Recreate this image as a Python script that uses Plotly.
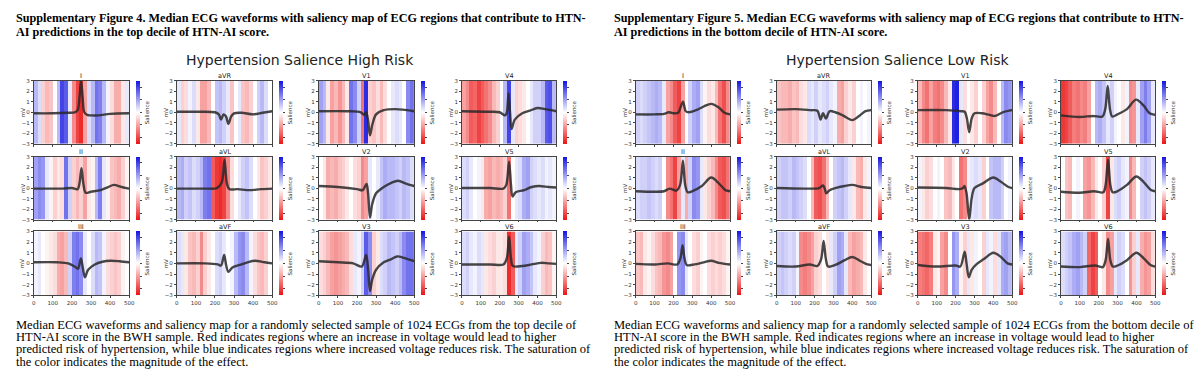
import plotly.graph_objects as go

W, H = 1200, 384

LEADS = ["I", "aVR", "V1", "V4", "II", "aVL", "V2", "V5", "III", "aVF", "V3", "V6"]
SAL_EDGES = [0, 20, 40, 60, 80, 100, 120, 140, 160, 180, 200, 220, 240, 260,
             280, 300, 320, 340, 360, 380, 400, 420, 440, 460, 480, 500]
X_TICKS = [0, 100, 200, 300, 400, 500]
Y_TICKS = [-3, -2, -1, 0, 1, 2, 3]
CB_TICKS = [-0.8, -0.4, 0, 0.4, 0.8]

# ---------------- High risk (Supplementary Figure 4) ----------------
HI_I_SAL = [0.3, 0.15, -0.2, -0.3, -0.25, 0.0, 0.3, 0.8, 0.7, 0.1, -0.5, -0.8, -0.9,
            -0.4, 0.15, 0.3, 0.6, 0.55, 0.3, 0.05, -0.15, -0.35, -0.35, -0.1, 0.1]
HI_I_T = [0, 100, 180, 215, 230, 240, 248, 256, 265, 280, 300, 340, 400, 500]
HI_I_MV = [-0.1, -0.1, -0.05, 0.0, 0.2, 1.5, 3.0, 1.5, 0.0, -0.25, -0.3, -0.3, -0.15, -0.1]

HI_AVR_SAL = [0.1, -0.2, -0.15, 0.05, 0.15, -0.1, -0.4, -0.4, -0.3, 0.0, 0.25, 0.3, 0.2,
              0.1, -0.25, 0.0, 0.1, -0.25, -0.3, -0.2, 0.0, 0.2, 0.3, 0.15, 0.0]
HI_AVR_T = [0, 100, 200, 220, 232, 245, 258, 270, 285, 300, 340, 400, 450, 500]
HI_AVR_MV = [0.05, 0.05, 0.0, -0.2, -0.7, -0.2, -0.4, -1.1, -0.4, -0.1, -0.05, -0.2, -0.05, 0.1]

HI_V1_SAL = [0.4, 0.3, -0.1, -0.4, -0.3, -0.45, -0.3, -0.1, 0.6, 0.5, 0.2, -0.6, 0.9,
             -0.2, -0.25, -0.15, -0.3, -0.15, 0.0, 0.1, 0.15, 0.1, 0.0, 0.5, 0.6]
HI_V1_T = [0, 150, 220, 238, 248, 258, 268, 280, 300, 340, 400, 440, 500]
HI_V1_MV = [0.1, 0.1, 0.0, -0.25, 0.0, -0.8, -2.2, -1.2, -0.2, 0.2, 0.3, 0.25, 0.1]

HI_V4_SAL = [-0.4, -0.5, -0.7, -0.65, -0.8, -0.7, -0.6, -0.5, -0.3, -0.2, 0.0, 0.3, 0.8,
             0.1, -0.2, -0.15, -0.1, 0.0, 0.1, 0.2, 0.2, 0.3, 0.7, 0.75, 0.3]
HI_V4_T = [0, 150, 200, 228, 238, 247, 255, 263, 280, 320, 360, 400, 440, 500]
HI_V4_MV = [0.1, 0.05, 0.0, -0.3, 0.0, 1.8, 0.0, -1.6, -0.7, -0.1, 0.15, 0.4, 0.3, 0.1]

HI_II_SAL = [0.4, 0.5, 0.45, 0.1, -0.05, -0.2, -0.1, -0.15, 0.6, 0.2, -0.2, -0.3, -0.2,
             -0.4, -0.1, -0.05, 0.3, 0.55, 0.1, -0.05, -0.25, -0.3, -0.35, -0.2, -0.05]
HI_II_T = [0, 150, 200, 230, 240, 250, 260, 272, 300, 350, 390, 420, 460, 500]
HI_II_MV = [-0.05, -0.05, 0.0, -0.1, 0.5, 1.9, 0.4, -0.45, -0.35, -0.2, 0.1, 0.3, 0.1, -0.05]

HI_AVL_SAL = [0.3, 0.35, 0.2, 0.25, 0.15, 0.2, 0.3, 0.55, 0.6, -0.7, -0.85, -0.9, -0.8,
              -0.5, -0.15, 0.0, 0.1, 0.2, 0.25, 0.15, 0.0, -0.1, -0.25, -0.2, -0.1]
HI_AVL_T = [0, 150, 210, 235, 250, 262, 275, 320, 380, 440, 500]
HI_AVL_MV = [-0.05, -0.05, 0.0, 0.5, 2.7, 0.5, -0.1, -0.1, -0.2, -0.1, -0.05]

HI_V2_SAL = [0.0, -0.1, -0.35, -0.3, -0.35, -0.25, -0.2, -0.1, 0.0, -0.15, -0.2, -0.5, -0.4,
             0.1, 0.0, 0.1, 0.25, 0.35, 0.3, 0.3, 0.25, 0.2, 0.3, 0.25, 0.15]
HI_V2_T = [0, 100, 200, 230, 250, 258, 268, 280, 300, 340, 380, 415, 460, 500]
HI_V2_MV = [0.2, 0.1, -0.1, -0.2, 0.4, -0.5, -2.8, -1.5, -0.5, 0.1, 0.5, 0.7, 0.4, 0.2]

HI_V5_SAL = [0.15, 0.2, 0.1, 0.0, 0.05, -0.1, -0.35, -0.4, -0.3, -0.35, -0.3, -0.2, -0.6,
             0.0, 0.1, 0.15, 0.35, 0.4, 0.2, 0.15, 0.1, 0.15, 0.05, 0.1, 0.05]
HI_V5_T = [0, 150, 220, 235, 250, 260, 268, 285, 330, 370, 410, 460, 500]
HI_V5_MV = [0.0, 0.0, -0.05, 0.3, 2.5, 0.3, -0.8, -0.4, -0.2, 0.1, 0.2, 0.1, 0.05]

HI_III_SAL = [0.05, 0.1, 0.0, -0.05, -0.1, -0.15, -0.35, -0.4, -0.3, 0.2, 0.55, 0.6, 0.5,
              0.1, 0.0, 0.15, 0.3, 0.25, 0.05, -0.15, -0.2, -0.25, -0.2, -0.05, 0.0]
HI_III_T = [0, 120, 180, 215, 232, 247, 258, 268, 285, 320, 360, 400, 450, 500]
HI_III_MV = [0.1, 0.1, 0.0, -0.3, -0.5, 0.45, -0.5, -1.3, -0.6, -0.1, 0.15, 0.25, 0.2, 0.1]

HI_AVF_SAL = [0.15, 0.1, -0.1, -0.25, -0.3, -0.2, -0.5, -0.2, -0.1, 0.0, 0.15, 0.2, 0.1,
              0.0, 0.05, 0.3, 0.45, 0.5, 0.3, 0.05, -0.15, -0.25, -0.3, -0.2, 0.0]
HI_AVF_T = [0, 150, 215, 232, 248, 258, 270, 290, 330, 370, 410, 460, 500]
HI_AVF_MV = [0.0, 0.0, -0.1, -0.2, 0.8, -0.1, -0.8, -0.4, -0.15, 0.1, 0.25, 0.1, 0.0]

HI_V3_SAL = [-0.15, -0.2, -0.3, -0.4, -0.45, -0.4, -0.35, -0.3, -0.15, 0.1, 0.05, 0.2, 0.7,
             0.5, -0.2, -0.1, 0.15, 0.2, 0.3, 0.25, 0.2, 0.3, 0.5, 0.6, 0.6]
HI_V3_T = [0, 100, 180, 225, 248, 258, 268, 280, 300, 340, 380, 410, 450, 500]
HI_V3_MV = [0.2, 0.1, 0.0, -0.3, 0.8, -0.5, -2.6, -1.5, -0.6, 0.1, 0.4, 0.65, 0.5, 0.2]

HI_V6_SAL = [0.15, 0.2, 0.1, 0.05, 0.15, 0.1, -0.1, -0.15, -0.2, -0.1, -0.1, -0.15, -0.9,
             -0.7, 0.1, 0.2, 0.4, 0.35, 0.25, 0.1, 0.05, -0.2, -0.3, -0.25, -0.05]
HI_V6_T = [0, 150, 220, 238, 250, 260, 270, 320, 370, 420, 460, 500]
HI_V6_MV = [-0.1, -0.1, -0.1, 0.5, 2.5, 0.5, -0.25, -0.25, -0.1, 0.05, 0.0, -0.05]

# ---------------- Low risk (Supplementary Figure 5) ----------------
LO_I_SAL = [0.2, 0.15, 0.2, 0.25, 0.3, 0.35, 0.3, 0.1, -0.4, -0.5, -0.7, -0.8, -0.4,
            0.0, 0.2, 0.35, 0.4, 0.15, -0.05, -0.15, -0.1, -0.3, -0.6, -0.75, -0.5]
LO_I_T = [0, 100, 150, 175, 205, 225, 250, 265, 280, 320, 360, 400, 440, 470, 500]
LO_I_MV = [-0.2, -0.2, -0.15, 0.0, -0.1, -0.05, 1.0, 0.1, 0.0, 0.2, 0.55, 0.8, 0.45, -0.05, -0.2]

LO_AVR_SAL = [-0.25, -0.3, -0.3, -0.35, -0.25, -0.3, -0.15, -0.1, 0.15, 0.1, 0.2, 0.1, 0.15,
              0.2, 0.1, 0.05, -0.35, -0.4, -0.2, -0.1, -0.2, 0.0, 0.05, 0.0, 0.05]
LO_AVR_T = [0, 100, 180, 215, 232, 245, 260, 280, 310, 350, 400, 440, 470, 500]
LO_AVR_MV = [0.25, 0.3, 0.2, 0.15, -0.7, -0.1, -0.6, 0.1, 0.0, -0.3, -0.75, -0.3, 0.1, 0.2]

LO_V1_SAL = [-0.3, -0.5, -0.6, -0.4, -0.55, -0.6, -0.5, -0.3, -0.1, 0.9, 0.95, 0.1, -0.15,
             0.0, -0.1, -0.2, 0.0, -0.2, -0.4, -0.5, -0.3, 0.0, 0.3, 0.5, 0.45]
LO_V1_T = [0, 150, 230, 248, 260, 272, 285, 300, 340, 380, 410, 450, 500]
LO_V1_MV = [0.2, 0.2, 0.1, 0.05, -0.6, -1.9, -0.6, -0.1, -0.1, -0.25, -0.35, 0.0, 0.2]

LO_V4_SAL = [-0.85, -0.8, -0.7, -0.55, -0.6, -0.5, -0.55, -0.4, 0.0, 0.3, 0.35, 0.25, 0.1,
             0.2, 0.05, 0.0, -0.1, 0.05, -0.5, -0.45, 0.1, 0.4, 0.55, 0.4, 0.1]
LO_V4_T = [0, 100, 170, 220, 235, 248, 260, 272, 300, 350, 398, 440, 470, 500]
LO_V4_MV = [-0.3, -0.45, -0.35, -0.4, 0.3, 2.5, 0.3, -0.4, -0.2, 0.3, 1.2, 0.6, -0.1, -0.25]

LO_II_SAL = [0.15, 0.2, 0.2, 0.25, 0.2, 0.15, 0.2, 0.0, -0.5, -0.6, -0.8, -0.4, 0.1,
             -0.35, 0.2, 0.5, 0.45, 0.1, -0.1, -0.2, -0.3, -0.5, -0.7, -0.75, -0.6]
LO_II_T = [0, 100, 150, 180, 215, 235, 250, 262, 275, 300, 350, 400, 440, 475, 500]
LO_II_MV = [-0.3, -0.35, -0.3, -0.05, -0.25, 0.3, 2.6, 0.3, -0.4, -0.3, 0.2, 1.0, 0.45, -0.2, -0.3]

LO_AVL_SAL = [0.2, 0.25, 0.25, 0.2, 0.3, 0.25, 0.2, 0.15, 0.0, -0.3, -0.7, -0.75, -0.6,
              -0.3, 0.0, 0.2, 0.25, 0.3, 0.2, 0.1, -0.1, -0.3, -0.35, -0.1, 0.05]
LO_AVL_T = [0, 150, 225, 245, 255, 262, 280, 320, 360, 400, 450, 500]
LO_AVL_MV = [0.0, -0.05, 0.0, 0.25, -0.1, -0.5, -0.2, 0.05, 0.2, 0.3, 0.1, 0.0]

LO_V2_SAL = [0.05, -0.1, -0.2, -0.15, 0.0, 0.05, 0.0, -0.25, -0.3, -0.1, 0.0, -0.6, -0.5,
             0.05, 0.1, 0.15, 0.1, -0.2, 0.0, 0.25, 0.3, 0.3, 0.2, 0.0, 0.05]
LO_V2_T = [0, 150, 220, 240, 247, 258, 272, 285, 300, 340, 400, 440, 480, 500]
LO_V2_MV = [0.05, 0.0, -0.1, 0.0, 0.2, -0.5, -3.0, -1.0, 0.0, 0.4, 1.0, 0.6, 0.1, 0.0]

LO_V5_SAL = [0.0, -0.25, -0.3, 0.0, 0.05, 0.0, -0.4, -0.45, -0.3, -0.1, 0.0, -0.2, -0.8,
             -0.1, 0.15, 0.2, 0.1, 0.05, -0.5, -0.3, 0.0, 0.2, 0.25, 0.2, 0.1]
LO_V5_T = [0, 100, 175, 225, 237, 250, 262, 274, 300, 350, 400, 440, 475, 500]
LO_V5_MV = [-0.35, -0.45, -0.3, -0.4, 0.3, 2.7, 0.3, -0.4, -0.3, 0.3, 1.1, 0.55, -0.15, -0.3]

LO_III_SAL = [-0.25, -0.3, -0.1, -0.05, -0.15, -0.25, -0.3, -0.45, -0.5, -0.4, 0.0, 0.45, 0.5,
              0.1, 0.0, -0.15, -0.2, -0.05, 0.0, -0.15, -0.2, -0.15, -0.2, -0.15, -0.05]
LO_III_T = [0, 100, 170, 220, 237, 248, 258, 270, 310, 360, 400, 440, 500]
LO_III_MV = [-0.05, -0.1, 0.0, -0.1, 0.5, 1.7, 0.5, -0.15, -0.1, 0.1, 0.25, 0.05, -0.1]

LO_AVF_SAL = [0.2, 0.25, 0.2, 0.15, 0.2, 0.05, -0.5, -0.55, -0.5, -0.4, -0.2, -0.15, 0.0,
              -0.1, 0.1, 0.2, 0.4, 0.35, 0.1, -0.3, -0.4, -0.35, -0.3, -0.1, 0.0]
LO_AVF_T = [0, 100, 175, 215, 235, 248, 260, 272, 310, 360, 400, 440, 480, 500]
LO_AVF_MV = [-0.25, -0.3, -0.1, -0.25, 0.4, 2.1, 0.4, -0.3, -0.15, 0.3, 0.6, 0.25, -0.1, -0.15]

LO_V3_SAL = [-0.55, -0.6, -0.65, -0.55, -0.1, -0.05, -0.4, -0.5, 0.0, 0.45, 0.35, -0.05, -0.2,
             0.1, -0.1, 0.05, 0.0, -0.2, 0.1, 0.05, -0.15, 0.1, 0.35, 0.4, 0.3]
LO_V3_T = [0, 100, 200, 225, 248, 258, 270, 285, 310, 350, 400, 440, 475, 500]
LO_V3_MV = [-0.15, -0.3, -0.2, -0.3, 1.1, 0.0, -1.3, -0.6, -0.1, 0.4, 1.0, 0.6, 0.0, -0.1]

LO_V6_SAL = [0.15, 0.2, 0.25, 0.35, 0.4, 0.3, 0.2, -0.65, -0.8, -0.7, 0.0, -0.1, -0.5,
             -0.4, 0.1, 0.2, 0.15, 0.0, -0.45, -0.2, 0.1, -0.35, -0.45, -0.4, -0.15]
LO_V6_T = [0, 100, 180, 222, 237, 250, 262, 275, 300, 350, 400, 440, 475, 500]
LO_V6_MV = [-0.3, -0.35, -0.2, -0.35, 0.3, 2.3, 0.3, -0.3, -0.2, 0.3, 1.0, 0.45, -0.15, -0.3]

HIGH = [
    (HI_I_SAL, HI_I_T, HI_I_MV), (HI_AVR_SAL, HI_AVR_T, HI_AVR_MV),
    (HI_V1_SAL, HI_V1_T, HI_V1_MV), (HI_V4_SAL, HI_V4_T, HI_V4_MV),
    (HI_II_SAL, HI_II_T, HI_II_MV), (HI_AVL_SAL, HI_AVL_T, HI_AVL_MV),
    (HI_V2_SAL, HI_V2_T, HI_V2_MV), (HI_V5_SAL, HI_V5_T, HI_V5_MV),
    (HI_III_SAL, HI_III_T, HI_III_MV), (HI_AVF_SAL, HI_AVF_T, HI_AVF_MV),
    (HI_V3_SAL, HI_V3_T, HI_V3_MV), (HI_V6_SAL, HI_V6_T, HI_V6_MV),
]
LOW = [
    (LO_I_SAL, LO_I_T, LO_I_MV), (LO_AVR_SAL, LO_AVR_T, LO_AVR_MV),
    (LO_V1_SAL, LO_V1_T, LO_V1_MV), (LO_V4_SAL, LO_V4_T, LO_V4_MV),
    (LO_II_SAL, LO_II_T, LO_II_MV), (LO_AVL_SAL, LO_AVL_T, LO_AVL_MV),
    (LO_V2_SAL, LO_V2_T, LO_V2_MV), (LO_V5_SAL, LO_V5_T, LO_V5_MV),
    (LO_III_SAL, LO_III_T, LO_III_MV), (LO_AVF_SAL, LO_AVF_T, LO_AVF_MV),
    (LO_V3_SAL, LO_V3_T, LO_V3_MV), (LO_V6_SAL, LO_V6_T, LO_V6_MV),
]

TITLES = [
    ["Supplementary Figure 4. Median ECG waveforms with saliency map of ECG regions that contribute to HTN-",
     "AI predictions in the top decile of HTN-AI score."],
    ["Supplementary Figure 5. Median ECG waveforms with saliency map of ECG regions that contribute to HTN-",
     "AI predictions in the bottom decile of HTN-AI score."],
]
SUPTITLES = ["Hypertension Salience High Risk", "Hypertension Salience Low Risk"]
CAPTIONS = [
    ["Median ECG waveforms and saliency map for a randomly selected sample of 1024 ECGs from the top decile of",
     "HTN-AI score in the BWH sample. Red indicates regions where an increase in voltage would lead to higher",
     "predicted risk of hypertension, while blue indicates regions where increased voltage reduces risk. The saturation of",
     "the color indicates the magnitude of the effect."],
    ["Median ECG waveforms and saliency map for a randomly selected sample of 1024 ECGs from the bottom decile of",
     "HTN-AI score in the BWH sample. Red indicates regions where an increase in voltage would lead to higher",
     "predicted risk of hypertension, while blue indicates regions where increased voltage reduces risk. The saturation of",
     "the color indicates the magnitude of the effect."],
]

# ---------------- layout geometry (pixels) ----------------
COLS = [
    [(32, 128), (176, 272), (319, 415), (463, 558)],
    [(638, 733), (780, 875), (922, 1017), (1066, 1161)],
]
ROWS = [(79, 143), (156, 220), (232, 297)]
PANEL_LEFT = [12, 614]
PANEL_CENTER = [300, 902]

CSCALE = [[0.0, "rgb(235,20,20)"], [0.5, "rgb(255,255,255)"], [1.0, "rgb(20,20,225)"]]
AX_COLOR = "#444444"
TXT_COLOR = "#333333"
SMALL_FONT = "DejaVu Sans"


def px(x):
    return x / W


def py(y):
    return 1 - y / H


fig = go.Figure()
layout = {}
annotations = []

for side, panels in enumerate([HIGH, LOW]):
    for k, (sal, t, mv) in enumerate(panels):
        r, c = divmod(k, 4)
        n = side * 12 + k + 1
        xa = "x" if n == 1 else f"x{n}"
        ya = "y" if n == 1 else f"y{n}"
        x0, x1 = COLS[side][c]
        y0, y1 = ROWS[r]

        fig.add_trace(go.Heatmap(
            z=[sal], x=SAL_EDGES, y=[-3, 3], xaxis=xa, yaxis=ya,
            colorscale=CSCALE, zmin=-1, zmax=1, hoverinfo="skip",
            showscale=True,
            colorbar=dict(
                x=px(x1 + 7), xanchor="left", y=py((y0 + y1) / 2), yanchor="middle",
                len=(y1 - y0) / H, lenmode="fraction", thickness=4, thicknessmode="pixels",
                xpad=0, ypad=0, outlinewidth=0, ticks="outside", ticklen=2, tickwidth=0.6,
                tickcolor=AX_COLOR, showticklabels=False, tickvals=CB_TICKS,
            ),
        ))
        fig.add_trace(go.Scatter(
            x=t, y=mv, xaxis=xa, yaxis=ya, mode="lines", hoverinfo="skip",
            showlegend=False,
            line=dict(color="rgba(40,40,40,0.85)", width=2.4, shape="spline", smoothing=0.9),
        ))

        xname = "xaxis" if n == 1 else f"xaxis{n}"
        yname = "yaxis" if n == 1 else f"yaxis{n}"
        layout[xname] = dict(
            domain=[px(x0), px(x1)], anchor=ya, range=[0, 500], tickvals=X_TICKS,
            showticklabels=(r == 2), ticks="outside", ticklen=2, tickwidth=0.6,
            tickcolor=AX_COLOR, showline=True, mirror=True, linecolor=AX_COLOR,
            linewidth=0.8, showgrid=False, zeroline=False,
            tickfont=dict(family=SMALL_FONT, size=5.5, color=TXT_COLOR),
        )
        layout[yname] = dict(
            domain=[py(y1), py(y0)], anchor=xa, range=[-3, 3], tickvals=Y_TICKS,
            ticks="outside", ticklen=2, tickwidth=0.6, tickcolor=AX_COLOR,
            showline=True, mirror=True, linecolor=AX_COLOR, linewidth=0.8,
            showgrid=False, zeroline=False,
            tickfont=dict(family=SMALL_FONT, size=5.5, color=TXT_COLOR),
        )
        # subplot title
        annotations.append(dict(
            x=px((x0 + x1) / 2), y=py(y0 - 4.5), xref="paper", yref="paper",
            text=LEADS[k], showarrow=False, xanchor="center", yanchor="middle",
            font=dict(family=SMALL_FONT, size=6.5, color="#222222"),
        ))
        # y label
        annotations.append(dict(
            x=px(x0 - 11), y=py((y0 + y1) / 2), xref="paper", yref="paper",
            text="mV", showarrow=False, textangle=-90, xanchor="center", yanchor="middle",
            font=dict(family=SMALL_FONT, size=5.5, color=TXT_COLOR),
        ))
        # colorbar label
        annotations.append(dict(
            x=px(x1 + 18), y=py((y0 + y1) / 2), xref="paper", yref="paper",
            text="Salience", showarrow=False, textangle=-90, xanchor="center", yanchor="middle",
            font=dict(family=SMALL_FONT, size=5.5, color=TXT_COLOR),
        ))

    left = PANEL_LEFT[side]
    for i, line in enumerate(TITLES[side]):
        annotations.append(dict(
            x=px(left), y=py(15 + 14 * i), xref="paper", yref="paper", text=f"<b>{line}</b>",
            showarrow=False, xanchor="left", yanchor="middle",
            font=dict(family="Liberation Serif", size=12.2, color="#000000"),
        ))
    annotations.append(dict(
        x=px(PANEL_CENTER[side]), y=py(58), xref="paper", yref="paper", text=SUPTITLES[side],
        showarrow=False, xanchor="center", yanchor="middle",
        font=dict(family=SMALL_FONT, size=14, color="#222222"),
    ))
    for i, line in enumerate(CAPTIONS[side]):
        annotations.append(dict(
            x=px(left), y=py(327 + 12.4 * i), xref="paper", yref="paper", text=line,
            showarrow=False, xanchor="left", yanchor="middle",
            font=dict(family="Liberation Serif", size=12.5, color="#000000"),
        ))

fig.update_layout(
    width=W, height=H, margin=dict(l=0, r=0, t=0, b=0, pad=0),
    paper_bgcolor="white", plot_bgcolor="white", showlegend=False,
    annotations=annotations, **layout,
)

fig.write_html("out.html", config={"displayModeBar": False},
               post_script="document.body.style.margin='0';")
